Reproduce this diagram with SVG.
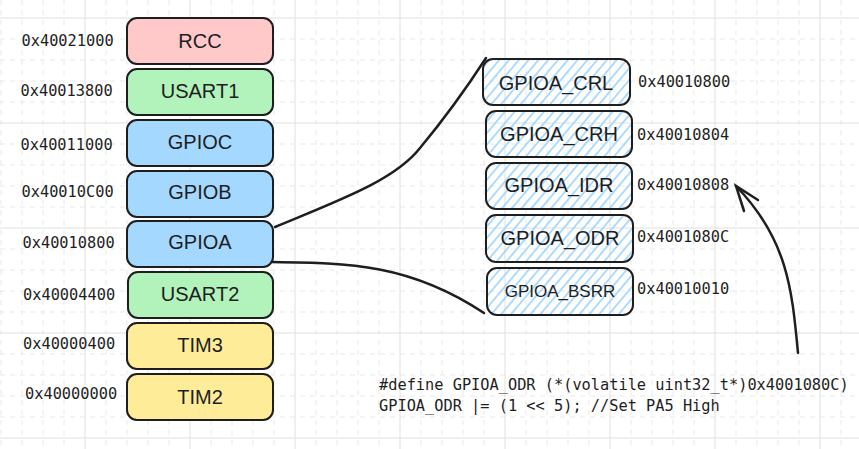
<svg xmlns="http://www.w3.org/2000/svg" width="859" height="449" viewBox="0 0 859 449">
<style>
.bg{fill:#ffffff}
.gs{stroke:#e0e0e0;stroke-width:1}
.gd{stroke:#e9e9e9;stroke-width:1;stroke-dasharray:5 5}
.box{stroke:#1e1e1e;stroke-width:2}
.rcc{fill:#ffc9c9}
.usart{fill:#b2f2bb}
.gpio{fill:#a5d8ff}
.tim{fill:#ffec99}
.reg{fill:url(#hatch)}
.lbl{font-family:"Liberation Sans","DejaVu Sans",sans-serif;font-size:20px;fill:#1e1e1e;text-anchor:middle;dominant-baseline:central}
.rl{font-family:"Liberation Sans","DejaVu Sans",sans-serif;font-size:20px;fill:#1e1e1e;text-anchor:middle;dominant-baseline:central}
.addr{font-family:"DejaVu Sans Mono","Liberation Mono",monospace;font-size:15.3px;fill:#1e1e1e;dominant-baseline:central}
.code{font-family:"DejaVu Sans Mono","Liberation Mono",monospace;font-size:15.3px;fill:#1e1e1e}
.conn{fill:none;stroke:#1e1e1e;stroke-width:2.5;stroke-linecap:round}
</style>
<defs>
<pattern id="hatch" width="7.5" height="7.5" patternUnits="userSpaceOnUse" patternTransform="rotate(40)">
<line x1="1" y1="0" x2="1" y2="7.5" stroke="#a5d8ff" stroke-width="1.8"/>
</pattern>
</defs>
<rect class="bg" x="0" y="0" width="859" height="449"/>
<g id="grid">
<g class="gd">
<line x1="1" y1="0" x2="1" y2="449"/><line x1="22" y1="0" x2="22" y2="449"/><line x1="43" y1="0" x2="43" y2="449"/><line x1="64" y1="0" x2="64" y2="449"/>
<line x1="106" y1="0" x2="106" y2="449"/><line x1="127" y1="0" x2="127" y2="449"/><line x1="148" y1="0" x2="148" y2="449"/><line x1="169" y1="0" x2="169" y2="449"/>
<line x1="211" y1="0" x2="211" y2="449"/><line x1="232" y1="0" x2="232" y2="449"/><line x1="253" y1="0" x2="253" y2="449"/><line x1="274" y1="0" x2="274" y2="449"/>
<line x1="316" y1="0" x2="316" y2="449"/><line x1="337" y1="0" x2="337" y2="449"/><line x1="358" y1="0" x2="358" y2="449"/><line x1="379" y1="0" x2="379" y2="449"/>
<line x1="421" y1="0" x2="421" y2="449"/><line x1="442" y1="0" x2="442" y2="449"/><line x1="463" y1="0" x2="463" y2="449"/><line x1="484" y1="0" x2="484" y2="449"/>
<line x1="526" y1="0" x2="526" y2="449"/><line x1="547" y1="0" x2="547" y2="449"/><line x1="568" y1="0" x2="568" y2="449"/><line x1="589" y1="0" x2="589" y2="449"/>
<line x1="631" y1="0" x2="631" y2="449"/><line x1="652" y1="0" x2="652" y2="449"/><line x1="673" y1="0" x2="673" y2="449"/><line x1="694" y1="0" x2="694" y2="449"/>
<line x1="736" y1="0" x2="736" y2="449"/><line x1="757" y1="0" x2="757" y2="449"/><line x1="778" y1="0" x2="778" y2="449"/><line x1="799" y1="0" x2="799" y2="449"/>
<line x1="841" y1="0" x2="841" y2="449"/>
<line x1="0" y1="39" x2="859" y2="39"/><line x1="0" y1="60" x2="859" y2="60"/><line x1="0" y1="81" x2="859" y2="81"/><line x1="0" y1="102" x2="859" y2="102"/>
<line x1="0" y1="144" x2="859" y2="144"/><line x1="0" y1="165" x2="859" y2="165"/><line x1="0" y1="186" x2="859" y2="186"/><line x1="0" y1="207" x2="859" y2="207"/>
<line x1="0" y1="249" x2="859" y2="249"/><line x1="0" y1="270" x2="859" y2="270"/><line x1="0" y1="291" x2="859" y2="291"/><line x1="0" y1="312" x2="859" y2="312"/>
<line x1="0" y1="354" x2="859" y2="354"/><line x1="0" y1="375" x2="859" y2="375"/><line x1="0" y1="396" x2="859" y2="396"/><line x1="0" y1="417" x2="859" y2="417"/>
</g>
<g class="gs">
<line x1="85" y1="0" x2="85" y2="449"/><line x1="190" y1="0" x2="190" y2="449"/><line x1="295" y1="0" x2="295" y2="449"/><line x1="400" y1="0" x2="400" y2="449"/>
<line x1="505" y1="0" x2="505" y2="449"/><line x1="610" y1="0" x2="610" y2="449"/><line x1="715" y1="0" x2="715" y2="449"/><line x1="820" y1="0" x2="820" y2="449"/>
<line x1="0" y1="18" x2="859" y2="18"/><line x1="0" y1="123" x2="859" y2="123"/><line x1="0" y1="228" x2="859" y2="228"/><line x1="0" y1="333" x2="859" y2="333"/><line x1="0" y1="438" x2="859" y2="438"/>
</g>
</g>
<g id="connectors">
<path class="conn" d="M275,227 C340,200 395,180 420,148 C445,118 462,95 486,58"/>
<path class="conn" d="M272,262 C350,263 410,264 484,313"/>
<path class="conn" d="M798,353 C792,290 788,240 736,186"/>
<path class="conn" d="M758,200 L736,186 L744,211"/>
</g>
<g id="rcc"><rect class="box rcc" x="127" y="18" width="146" height="46" rx="10"/><text class="lbl" x="200" y="41">RCC</text><text class="addr" x="21.5" y="41">0x40021000</text></g>
<g id="usart1"><rect class="box usart" x="127" y="69" width="146" height="46" rx="10"/><text class="lbl" x="200" y="91">USART1</text><text class="addr" x="20.5" y="91">0x40013800</text></g>
<g id="gpioc"><rect class="box gpio" x="127" y="120" width="146" height="46" rx="10"/><text class="lbl" x="200" y="142">GPIOC</text><text class="addr" x="20.5" y="145">0x40011000</text></g>
<g id="gpiob"><rect class="box gpio" x="127" y="171" width="146" height="46" rx="10"/><text class="lbl" x="200" y="192">GPIOB</text><text class="addr" x="21.5" y="192">0x40010C00</text></g>
<g id="gpioa"><rect class="box gpio" x="127" y="221" width="146" height="46" rx="10"/><text class="lbl" x="200" y="242">GPIOA</text><text class="addr" x="22.5" y="243">0x40010800</text></g>
<g id="usart2"><rect class="box usart" x="128" y="272" width="145" height="46" rx="10"/><text class="lbl" x="200" y="294">USART2</text><text class="addr" x="23" y="295">0x40004400</text></g>
<g id="tim3"><rect class="box tim" x="127" y="323" width="146" height="46" rx="10"/><text class="lbl" x="200" y="345">TIM3</text><text class="addr" x="23" y="344">0x40000400</text></g>
<g id="tim2"><rect class="box tim" x="127" y="374" width="146" height="46" rx="10"/><text class="lbl" x="200" y="397">TIM2</text><text class="addr" x="25" y="394">0x40000000</text></g>
<g id="gpioa_crl"><rect class="box reg" x="483" y="59" width="147" height="46" rx="10"/><text class="rl" x="556" y="83" font-size="21">GPIOA_CRL</text><text class="addr" x="638" y="81.5">0x40010800</text></g>
<g id="gpioa_crh"><rect class="box reg" x="486" y="111" width="146" height="46" rx="10"/><text class="rl" x="559" y="134" font-size="21">GPIOA_CRH</text><text class="addr" x="637" y="135">0x40010804</text></g>
<g id="gpioa_idr"><rect class="box reg" x="486" y="163" width="146" height="46" rx="10"/><text class="rl" x="559" y="185" font-size="21">GPIOA_IDR</text><text class="addr" x="637" y="185">0x40010808</text></g>
<g id="gpioa_odr"><rect class="box reg" x="486" y="215" width="147" height="47" rx="10"/><text class="rl" x="560" y="238" font-size="21">GPIOA_ODR</text><text class="addr" x="637" y="237">0x4001080C</text></g>
<g id="gpioa_bsrr"><rect class="box reg" x="487" y="268" width="146" height="47" rx="10"/><text class="rl" x="560" y="291" style="font-size:17px">GPIOA_BSRR</text><text class="addr" x="637" y="289">0x40010010</text></g>
<g id="code">
<text class="code" x="379" y="390">#define GPIOA_ODR (*(volatile uint32_t*)0x4001080C)</text>
<text class="code" x="379" y="411">GPIOA_ODR |= (1 &lt;&lt; 5); //Set PA5 High</text>
</g>
</svg>
